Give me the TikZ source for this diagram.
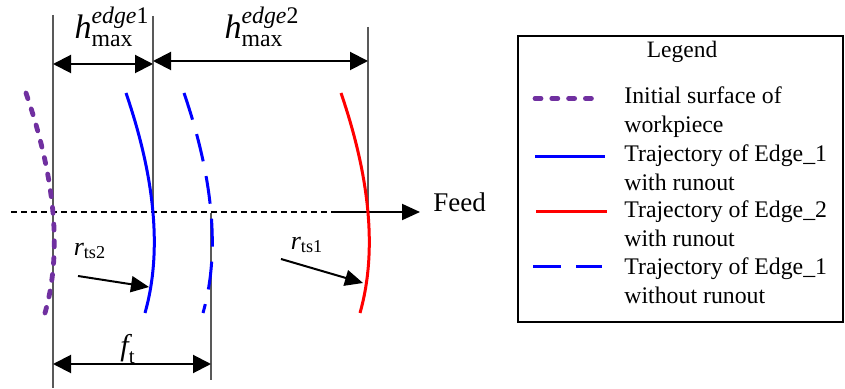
\documentclass[tikz,border=0pt]{standalone}
\usepackage{amsmath}
\usepackage{fontspec}
\setmainfont{Liberation Serif}
\usetikzlibrary{arrows.meta,positioning,calc}
\definecolor{surfpurple}{HTML}{7030A0}
\definecolor{edgeblue}{HTML}{0000FF}
\definecolor{edgered}{HTML}{FF0000}
\tikzset{
  guide/.style={black!65, line width=0.8pt},
  axisline/.style={black, line width=0.6pt, dash pattern=on 3pt off 2pt},
  dimarrow/.style={line width=1pt, {Triangle[length=9pt,width=9pt]}-{Triangle[length=9pt,width=9pt]}},
  ptarrow/.style={line width=1pt, -{Triangle[length=9pt,width=8pt]}},
  edgeline/.style={line width=1.5pt},
  surfline/.style={surfpurple, line width=2.4pt, line cap=round, dash pattern=on 3pt off 5.4pt},
  nominal/.style={edgeblue, line width=1.5pt, dash pattern=on 14pt off 7.5pt},
  legtext/.style={anchor=base west, align=left, inner sep=0pt, font=\fontsize{11.9}{14.25}\selectfont},
  trajectory/.pic={\draw (-27,-120) .. controls (2.7,-33.3) and (9,40) .. (-8,100);}
}

\begin{document}
\begin{tikzpicture}[x=0.5pt, y=-0.5pt]
  \useasboundingbox (0,0) rectangle (845,389);
  % reference lines
  \coordinate (surfTop) at (53,15);
  \coordinate (surfBot) at (53,388);
  \coordinate (edgeOneTop) at (153,16);
  \coordinate (edgeOneMid) at (153,213);
  \coordinate (edgeTwoTop) at (368,27);
  \coordinate (edgeTwoMid) at (368,213);
  \coordinate (nominalMid) at (211,213);
  \coordinate (nominalBot) at (211,380);
  \draw[guide] (surfTop) -- (surfBot);
  \draw[guide] (edgeOneTop) -- (edgeOneMid);
  \draw[guide] (edgeTwoTop) -- (edgeTwoMid);
  \draw[guide] (nominalMid) -- (nominalBot);

  % feed axis
  \coordinate (axisStart) at (11,212);
  \coordinate (feedStart) at (333,212);
  \coordinate (feedTip) at (420,212);
  \node (feed) [anchor=base west, inner sep=0pt, font=\fontsize{13.5}{13.5}\selectfont] at (433,212) {Feed};
  \draw[axisline] (axisStart) -- (feedStart);
  \draw[ptarrow] (feedStart) -- (feedTip);

  % trajectories
  \pic[surfline] at (53,213) {trajectory};
  \pic[edgeline, edgeblue] at (edgeOneMid) {trajectory};
  \pic[nominal] at (nominalMid) {trajectory};
  \pic[edgeline, edgered] at (edgeTwoMid) {trajectory};

  % dimensions
  \draw[dimarrow] (surfTop |- 0,64) -- (edgeOneTop |- 0,64);
  \draw[dimarrow] (edgeOneTop |- 0,61) -- (edgeTwoTop |- 0,61);
  \draw[dimarrow] (surfBot |- 0,364) -- (nominalBot |- 0,364);
  \node (hEdgeOne) at (112,27) {\fontsize{17}{17}\selectfont$\text{\itshape h}^{\text{\itshape edge\upshape 1}}_{\text{max}}$};
  \node (hEdgeTwo) at (262,27) {\fontsize{17}{17}\selectfont$\text{\itshape h}^{\text{\itshape edge\upshape 2}}_{\text{max}}$};
  \node (feedPerTooth) at (128,349) {\fontsize{15}{15}\selectfont$\text{\itshape f}_{\text{t}}$};

  % radii
  \node (rtsTwo) at (90,251) {\fontsize{13}{13}\selectfont$\text{\itshape r}_{\text{ts2}}$};
  \node (rtsOne) at (307,245) {\fontsize{13}{13}\selectfont$\text{\itshape r}_{\text{ts1}}$};
  \coordinate (rTwoTail) at (78,276);
  \coordinate (rTwoTip) at (149,287);
  \coordinate (rOneTail) at (281,259);
  \coordinate (rOneTip) at (363,283);
  \draw[ptarrow] (rTwoTail) -- (rTwoTip);
  \draw[ptarrow] (rOneTail) -- (rOneTip);

  % legend
  \draw[line width=0.6pt] (518,36) rectangle (843,322);
  \node (legendTitle) [anchor=base, inner sep=0pt, font=\fontsize{11.75}{14.25}\selectfont] at (682,58) {Legend};
  \node (legSurface) [legtext] at (624,132.5) {Initial surface of\\workpiece};
  \node (legEdgeOne) [legtext] at (624,190.5) {Trajectory of Edge\_1\\with runout};
  \node (legEdgeTwo) [legtext] at (624,246.5) {Trajectory of Edge\_2\\with runout};
  \node (legNominal) [legtext] at (624,303.5) {Trajectory of Edge\_1\\without runout};
  \draw[surfline] (535,98.5) -- (597,98.5);
  \draw[edgeline, edgeblue] (535,157) -- (605,157);
  \draw[edgeline, edgered] (536,212) -- (607,212);
  \draw[nominal] (533,267) -- (602,267);
\end{tikzpicture}
\end{document}
